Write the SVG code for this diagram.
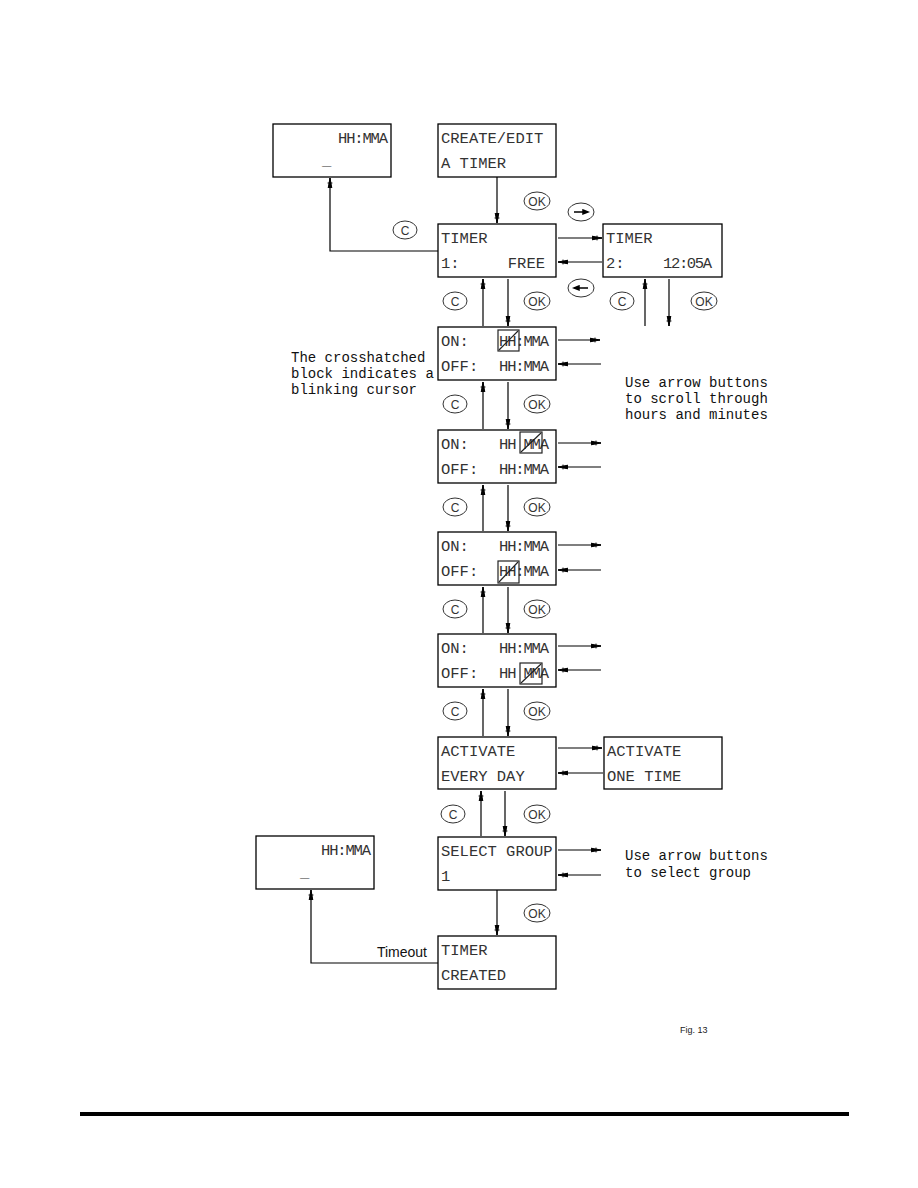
<svg xmlns="http://www.w3.org/2000/svg" width="918" height="1188" viewBox="0 0 918 1188">
<style>
.box{fill:#fff;stroke:#000;stroke-width:1.3}
.t{font-family:"Liberation Mono","DejaVu Sans Mono",monospace;font-size:15.5px;fill:#333}
.e{text-anchor:end}
.n{font-family:"Liberation Mono","DejaVu Sans Mono",monospace;font-size:14px;fill:#111}
.ar{fill:none;stroke:#000;stroke-width:1.2;marker-end:url(#ah)}
.btn{fill:#fff;stroke:#333;stroke-width:1}
.bt{font-family:"Liberation Sans","DejaVu Sans",sans-serif;font-size:12px;fill:#333;text-anchor:middle}
.cur{fill:none;stroke:#222;stroke-width:1.2}
</style>
<defs>
<marker id="ah" viewBox="0 0 10 6" refX="10" refY="3" markerWidth="10" markerHeight="6" markerUnits="userSpaceOnUse" orient="auto">
<path d="M0,1.2 L10,3 L0,4.8 Z M5,0.6 L5,5.4" fill="#000" stroke="#000" stroke-width="1"/>
</marker>
</defs>
<rect width="918" height="1188" fill="#fff"/>

<g id="connectors">
<path class="ar" d="M497,177 V223"/>
<path class="ar" d="M438,251 H330 V178"/>
<path class="ar" d="M558,238 H602"/>
<path class="ar" d="M602,262 H558"/>
<path class="ar" d="M483,326 V279"/>
<path class="ar" d="M508,279 V326"/>
<path class="ar" d="M645,326 V279"/>
<path class="ar" d="M669,279 V326"/>
<path class="ar" d="M558,340 H600"/>
<path class="ar" d="M601,364 H558"/>
<path class="ar" d="M483,429 V382"/>
<path class="ar" d="M508,382 V429"/>
<path class="ar" d="M558,443 H601"/>
<path class="ar" d="M601,467 H558"/>
<path class="ar" d="M483,531 V485"/>
<path class="ar" d="M508,485 V531"/>
<path class="ar" d="M558,545 H601"/>
<path class="ar" d="M601,570 H558"/>
<path class="ar" d="M483,633 V587"/>
<path class="ar" d="M508,587 V633"/>
<path class="ar" d="M558,646 H601"/>
<path class="ar" d="M601,670 H558"/>
<path class="ar" d="M483,736 V689"/>
<path class="ar" d="M508,689 V736"/>
<path class="ar" d="M558,748 H602"/>
<path class="ar" d="M603,773 H558"/>
<path class="ar" d="M481,836 V791"/>
<path class="ar" d="M505,791 V836"/>
<path class="ar" d="M558,850 H601"/>
<path class="ar" d="M601,875 H558"/>
<path class="ar" d="M497,890 V935"/>
<path class="ar" d="M438,963 H311 V890"/>
</g>

<g id="buttons">
<ellipse class="btn" cx="537" cy="201" rx="13" ry="9"/><text class="bt" x="537" y="205.5">OK</text>
<ellipse class="btn" cx="405" cy="230" rx="12" ry="9"/><text class="bt" x="405" y="234.5">C</text>
<ellipse class="btn" cx="581" cy="212" rx="13" ry="9"/><path d="M574,212 H588 M583,210 L588,212 L583,214 Z" stroke="#000" stroke-width="1.5" fill="#000"/>
<ellipse class="btn" cx="581" cy="288" rx="13" ry="9"/><path d="M574,288 H588 M579,286 L574,288 L579,290 Z" stroke="#000" stroke-width="1.5" fill="#000"/>
<ellipse class="btn" cx="455" cy="301" rx="12" ry="9"/><text class="bt" x="455" y="305.5">C</text>
<ellipse class="btn" cx="537" cy="301" rx="13" ry="9"/><text class="bt" x="537" y="305.5">OK</text>
<ellipse class="btn" cx="622" cy="301" rx="12" ry="9"/><text class="bt" x="622" y="305.5">C</text>
<ellipse class="btn" cx="704" cy="301" rx="13" ry="9"/><text class="bt" x="704" y="305.5">OK</text>
<ellipse class="btn" cx="455" cy="404" rx="12" ry="9"/><text class="bt" x="455" y="408.5">C</text>
<ellipse class="btn" cx="537" cy="404" rx="13" ry="9"/><text class="bt" x="537" y="408.5">OK</text>
<ellipse class="btn" cx="455" cy="507" rx="12" ry="9"/><text class="bt" x="455" y="511.5">C</text>
<ellipse class="btn" cx="537" cy="507" rx="13" ry="9"/><text class="bt" x="537" y="511.5">OK</text>
<ellipse class="btn" cx="455" cy="609" rx="12" ry="9"/><text class="bt" x="455" y="613.5">C</text>
<ellipse class="btn" cx="537" cy="609" rx="13" ry="9"/><text class="bt" x="537" y="613.5">OK</text>
<ellipse class="btn" cx="455" cy="711" rx="12" ry="9"/><text class="bt" x="455" y="715.5">C</text>
<ellipse class="btn" cx="537" cy="711" rx="13" ry="9"/><text class="bt" x="537" y="715.5">OK</text>
<ellipse class="btn" cx="453" cy="814" rx="12" ry="9"/><text class="bt" x="453" y="818.5">C</text>
<ellipse class="btn" cx="537" cy="814" rx="13" ry="9"/><text class="bt" x="537" y="818.5">OK</text>
<ellipse class="btn" cx="537" cy="913" rx="13" ry="9"/><text class="bt" x="537" y="917.5">OK</text>
</g>

<g id="home-top">
<rect class="box" x="273" y="124" width="118" height="53"/>
<text class="t" x="338" y="143" textLength="50" lengthAdjust="spacing">HH:MMA</text>
<text class="t" x="322" y="165">_</text>
</g>
<g id="create-edit">
<rect class="box" x="438" y="124" width="118" height="53"/>
<text class="t" x="441" y="143">CREATE/EDIT</text>
<text class="t" x="441" y="168">A TIMER</text>
</g>
<g id="timer1">
<rect class="box" x="438" y="224" width="118" height="53"/>
<text class="t" x="441" y="243">TIMER</text>
<text class="t" x="441" y="268">1:</text>
<text class="t e" x="545" y="268">FREE</text>
</g>
<g id="timer2">
<rect class="box" x="603" y="224" width="119" height="53"/>
<text class="t" x="606" y="243">TIMER</text>
<text class="t" x="606" y="268">2:</text>
<text class="t" x="663" y="268" textLength="49" lengthAdjust="spacing">12:05A</text>
</g>
<g id="on-hh">
<rect class="box" x="438" y="327" width="118" height="53"/>
<text class="t" x="441" y="346">ON:</text>
<text class="t" x="499" y="346" textLength="50" lengthAdjust="spacing">HH:MMA</text>
<text class="t" x="441" y="371">OFF:</text>
<text class="t" x="499" y="371" textLength="50" lengthAdjust="spacing">HH:MMA</text>
<rect class="cur" x="498" y="330" width="21" height="21"/><path class="cur" d="M499,350 L518,331"/>
</g>
<g id="on-mm">
<rect class="box" x="438" y="430" width="118" height="53"/>
<text class="t" x="441" y="449">ON:</text>
<text class="t" x="499" y="449" textLength="50" lengthAdjust="spacing">HH MMA</text>
<text class="t" x="441" y="474">OFF:</text>
<text class="t" x="499" y="474" textLength="50" lengthAdjust="spacing">HH:MMA</text>
<rect class="cur" x="520" y="432" width="22" height="21"/><path class="cur" d="M521,452 L541,433"/>
</g>
<g id="off-hh">
<rect class="box" x="438" y="532" width="118" height="53"/>
<text class="t" x="441" y="551">ON:</text>
<text class="t" x="499" y="551" textLength="50" lengthAdjust="spacing">HH:MMA</text>
<text class="t" x="441" y="576">OFF:</text>
<text class="t" x="499" y="576" textLength="50" lengthAdjust="spacing">HH:MMA</text>
<rect class="cur" x="498" y="561" width="21" height="22"/><path class="cur" d="M499,582 L518,562"/>
</g>
<g id="off-mm">
<rect class="box" x="438" y="634" width="118" height="53"/>
<text class="t" x="441" y="653">ON:</text>
<text class="t" x="499" y="653" textLength="50" lengthAdjust="spacing">HH:MMA</text>
<text class="t" x="441" y="678">OFF:</text>
<text class="t" x="499" y="678" textLength="50" lengthAdjust="spacing">HH MMA</text>
<rect class="cur" x="520" y="663" width="22" height="21"/><path class="cur" d="M521,683 L541,664"/>
</g>
<g id="activate-every">
<rect class="box" x="438" y="737" width="118" height="52"/>
<text class="t" x="441" y="756">ACTIVATE</text>
<text class="t" x="441" y="781">EVERY DAY</text>
</g>
<g id="activate-one">
<rect class="box" x="604" y="737" width="118" height="52"/>
<text class="t" x="607" y="756">ACTIVATE</text>
<text class="t" x="607" y="781">ONE TIME</text>
</g>
<g id="select-group">
<rect class="box" x="438" y="837" width="118" height="53"/>
<text class="t" x="441" y="856">SELECT GROUP</text>
<text class="t" x="441" y="881">1</text>
</g>
<g id="home-bottom">
<rect class="box" x="256" y="836" width="118" height="53"/>
<text class="t" x="321" y="855" textLength="50" lengthAdjust="spacing">HH:MMA</text>
<text class="t" x="300" y="877">_</text>
</g>
<g id="timer-created">
<rect class="box" x="438" y="936" width="118" height="53"/>
<text class="t" x="441" y="955">TIMER</text>
<text class="t" x="441" y="980">CREATED</text>
</g>

<g id="notes">
<text class="n" x="291" y="362">The crosshatched</text>
<text class="n" x="291" y="378">block indicates a</text>
<text class="n" x="291" y="394">blinking cursor</text>
<text class="n" x="625" y="387">Use arrow buttons</text>
<text class="n" x="625" y="403">to scroll through</text>
<text class="n" x="625" y="419">hours and minutes</text>
<text class="n" x="625" y="860">Use arrow buttons</text>
<text class="n" x="625" y="877">to select group</text>
<text x="427" y="957" text-anchor="end" font-family="Liberation Sans, DejaVu Sans, sans-serif" font-size="14" fill="#111">Timeout</text>
<text x="680" y="1033" font-family="Liberation Sans, DejaVu Sans, sans-serif" font-size="9" fill="#222">Fig. 13</text>
</g>
<rect x="80" y="1112" width="769" height="4" fill="#000"/>
</svg>
